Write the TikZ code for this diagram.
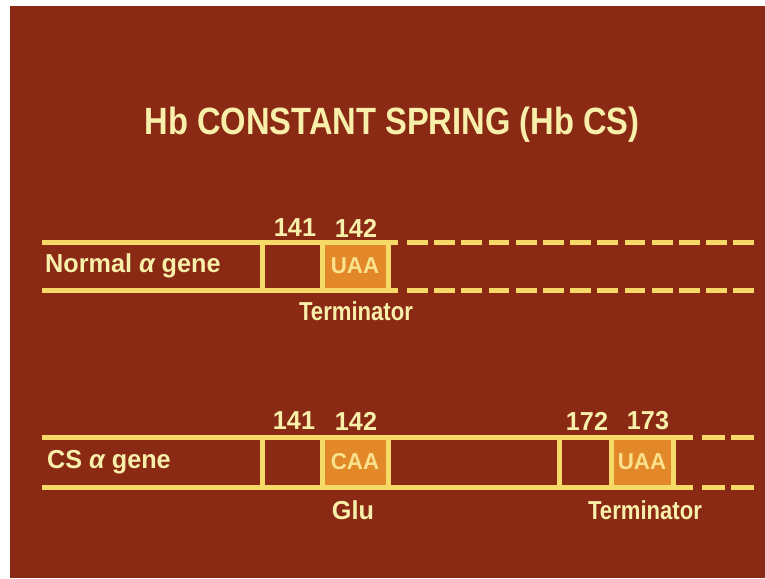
\documentclass[tikz,border=0pt]{standalone}
\usepackage{fontspec}
\setmainfont{Liberation Sans}
\newfontfamily\titlefont[FakeStretch=0.86]{Liberation Sans}
\newfontfamily\labfont[FakeStretch=0.97]{Liberation Sans}
\newfontfamily\narrowfont[FakeStretch=0.85]{Liberation Sans}
\definecolor{bgred}{RGB}{138,42,20}
\definecolor{lineyel}{RGB}{246,218,104}
\definecolor{codon}{RGB}{226,136,40}
\definecolor{txtyel}{RGB}{248,240,170}
\definecolor{codontxt}{RGB}{250,226,140}
\tikzset{
  strand/.style={draw=lineyel, line width=5pt},
  dashstrand/.style={draw=lineyel, line width=5pt, dash pattern=on 20.8pt off 6.4pt},
  cell/.style={draw=lineyel, line width=5pt, minimum height=48pt, inner sep=0pt},
  codoncell/.style={cell, fill=codon},
  lab/.style={text=txtyel, font=\labfont\bfseries\fontsize{26}{26}\selectfont, inner sep=0pt},
  narrowlab/.style={text=txtyel, font=\narrowfont\bfseries\fontsize{26}{26}\selectfont, inner sep=0pt},
  codonlab/.style={text=codontxt, font=\labfont\bfseries\fontsize{23}{23}\selectfont, inner sep=0pt},
  titlelab/.style={text=txtyel, font=\titlefont\bfseries\fontsize{38}{38}\selectfont, inner sep=0pt}
}
\begin{document}
\begin{tikzpicture}[x=1pt, y=-1pt]
\useasboundingbox (0,0) rectangle (765,578);
\fill[white] (0,0) rectangle (765,578);
\fill[bgred] (10,6) rectangle (765,578);

% title
\node[titlelab] (title) at (392,125) {Hb CONSTANT SPRING (Hb CS)};

% ---------- Normal alpha gene ----------
\coordinate (nTL) at (42,242);
\coordinate (nBL) at (42,290);
\coordinate (nTR) at (398,242);
\coordinate (nBR) at (398,290);
\coordinate (nTD1) at (407,242);
\coordinate (nTD2) at (754,242);
\coordinate (nBD1) at (407,290);
\coordinate (nBD2) at (754,290);
\draw[strand] (nTL) -- (nTR);
\draw[strand] (nBL) -- (nBR);
\draw[dashstrand] (nTD1) -- (nTD2);
\draw[dashstrand] (nBD1) -- (nBD2);
\node[cell, minimum width=60pt] (n141) at (292,266) {};
\node[codoncell, minimum width=66pt] (n142) at (355,266) {};
\node[codonlab] at (n142.center) {UAA};
\node[lab, anchor=west] (nname) at (45,266) {Normal {\itshape α} gene};
\node[lab] (n141l) at (295,228) {141};
\node[lab] (n142l) at (356,228) {142};
\node[narrowlab] (nterm) at (356,311) {Terminator};

% ---------- CS alpha gene ----------
\coordinate (cTL) at (42,437);
\coordinate (cBL) at (42,487);
\coordinate (cTR) at (693,437);
\coordinate (cBR) at (693,487);
\coordinate (cTD1) at (702,437);
\coordinate (cTD2) at (754,437);
\coordinate (cBD1) at (702,487);
\coordinate (cBD2) at (754,487);
\draw[strand] (cTL) -- (cTR);
\draw[strand] (cBL) -- (cBR);
\draw[dashstrand, dash pattern=on 23pt off 6pt] (cTD1) -- (cTD2);
\draw[dashstrand, dash pattern=on 23pt off 6pt] (cBD1) -- (cBD2);
\node[cell, minimum width=60pt, minimum height=50pt] (c141) at (292,462) {};
\node[codoncell, minimum width=66pt, minimum height=50pt] (c142) at (355,462) {};
\node[codonlab] at (c142.center) {CAA};
\node[cell, minimum width=52pt, minimum height=50pt] (c172) at (585,462) {};
\node[codoncell, minimum width=62pt, minimum height=50pt] (c173) at (642,462) {};
\node[codonlab] at (c173.center) {UAA};
\node[lab, anchor=west] (cname) at (47,462) {CS {\itshape α} gene};
\node[lab] (c141l) at (294,421) {141};
\node[lab] (c142l) at (356,421) {142};
\node[lab] (c172l) at (587,421) {172};
\node[lab] (c173l) at (648,421) {173};
\node[lab] (cglu) at (353,510) {Glu};
\node[narrowlab] (cterm) at (645,510) {Terminator};
\end{tikzpicture}
\end{document}
